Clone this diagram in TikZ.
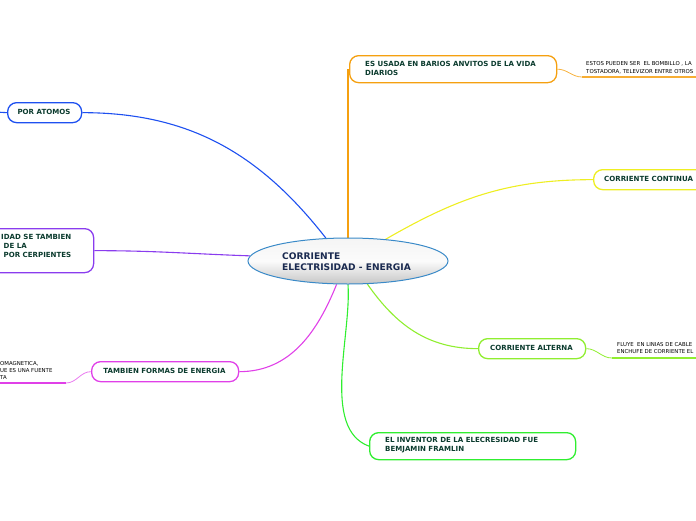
\documentclass[tikz,border=0pt]{standalone}
\usepackage{fontspec}
\setmainfont{DejaVu Sans}
\usetikzlibrary{shapes.geometric}
\definecolor{corange}{HTML}{F5A010}
\definecolor{cyellow}{HTML}{EEEE22}
\definecolor{cblue}{HTML}{1E50F0}
\definecolor{cpurple}{HTML}{8A3CEE}
\definecolor{cmagenta}{HTML}{E040E8}
\definecolor{clgreen}{HTML}{90EE30}
\definecolor{cgreen}{HTML}{30EE30}
\definecolor{cborder}{HTML}{3A8AC8}
\definecolor{txt}{HTML}{0B3B2E}
\definecolor{ctxt}{HTML}{1A2A50}
\pgfdeclarelayer{bg}
\pgfsetlayers{bg,main}
\begin{document}
\begin{tikzpicture}[x=1pt,y=1pt,
  box/.style={draw, rounded corners=9pt, line width=1.3pt, fill=white, inner sep=0pt, anchor=north west},
  lbl/.style={inner sep=0pt, anchor=west, align=left, text=txt, font=\fontsize{7.05}{9}\selectfont\bfseries},
  clbl/.style={lbl, anchor=center, align=center},
  subt/.style={inner sep=0pt, anchor=west, align=left, text=black, font=\fontsize{5.4}{7.8}\selectfont},
  link/.style={line width=1.1pt},
  uline/.style={line width=1.6pt}]
\useasboundingbox (0,0) rectangle (696,-520);
\clip (0,0) rectangle (696,-520);
% central node
\node[ellipse, draw=cborder, line width=1pt, minimum width=200pt, minimum height=46pt,
  top color=white!92!gray, bottom color=gray!45, middle color=white!97!gray] (c) at (348,-261) {};
\node[inner sep=0pt, anchor=west, align=left, text=ctxt, font=\fontsize{9.1}{11.5}\selectfont\bfseries] (ct) at (282,-261.5) {CORRIENTE\\ELECTRISIDAD - ENERGIA};
% boxes
\node[box, draw=corange, minimum width=207pt, minimum height=27pt] (ob) at (349,-55) {};
\node[lbl] (obt) at (365,-68.5) {ES USADA EN BARIOS ANVITOS DE LA VIDA\\DIARIOS};
\node[box, draw=cyellow, minimum width=130pt, minimum height=20pt] (yb) at (593,-169) {};
\node[lbl] (ybt) at (604,-179) {CORRIENTE CONTINUA};
\node[box, draw=cblue, minimum width=74pt, minimum height=20pt] (bb) at (7,-102) {};
\node[clbl] (bbt) at (44,-112) {POR ATOMOS};
\node[box, draw=cpurple, minimum width=123pt, minimum height=44pt] (pb) at (-30,-228) {};
\node[lbl] (pbt) at (1,-246) {IDAD SE TAMBIEN\\\ DE LA\\\ POR CERPIENTES};
\node[box, draw=cmagenta, minimum width=147pt, minimum height=20pt] (mb) at (91,-361) {};
\node[clbl] (mbt) at (164.5,-371) {TAMBIEN FORMAS DE ENERGIA};
\node[box, draw=clgreen, minimum width=107pt, minimum height=20pt] (lb) at (478,-338) {};
\node[clbl] (lbt) at (531.5,-348) {CORRIENTE ALTERNA};
\node[box, draw=cgreen, minimum width=206pt, minimum height=27pt] (gb) at (369,-432) {};
\node[lbl] (gbt) at (385,-445.5) {EL INVENTOR DE LA ELECRESIDAD FUE\\BEMJAMIN FRAMLIN};
% sub texts
\node[subt] (os) at (586,-68) {ESTOS PUEDEN SER \ EL BOMBILLO , LA\\TOSTADORA, TELEVIZOR ENTRE OTROS};
\coordinate (os0) at (582,-77);
\coordinate (os1) at (700,-77);
\node[subt] (ls) at (617,-348) {FLUYE \ EN LINIAS DE CABLE\\ENCHUFE DE CORRIENTE EL};
\coordinate (ls0) at (612,-358);
\coordinate (ls1) at (700,-358);
\node[subt, font=\fontsize{5.4}{7}\selectfont] (ms) at (0,-370) {OMAGNETICA,\\UE ES UNA FUENTE\\TA};
\coordinate (ms0) at (66,-383);
\coordinate (ms1) at (-5,-383);
\coordinate (bl) at (-5,-112);
% connectors
\begin{pgfonlayer}{bg}
\draw[link, corange] (c.north) -- (c.north |- ob.west);
\draw[link, cyellow] (c.30) to[out=30, in=180] (yb.west);
\draw[link, cblue] (c.134) to[out=128, in=0, looseness=1] (bb.east);
\draw[link, cblue] (bl) -- (bb.west);
\draw[link, cpurple] (c.177) to[out=178, in=0] (pb.east);
\draw[link, cmagenta] (c.244) to[out=-112, in=0] (mb.east);
\draw[link, clgreen] (c.-50) to[out=-55, in=180] (lb.west);
\draw[link, cgreen] (c.south) to[out=-86, in=160, looseness=0.8] (gb.west);
\draw[line width=0.8pt, corange!80] (ob.east) to[out=0, in=180] (os0);
\draw[uline, corange!85] (os0) -- (os1);
\draw[line width=0.8pt, clgreen] (lb.east) to[out=0, in=180] (ls0);
\draw[uline, clgreen] (ls0) -- (ls1);
\draw[line width=0.8pt, cmagenta!70] (ms0) to[out=0, in=180] (mb.west);
\draw[uline, cmagenta] (ms1) -- (ms0);
\end{pgfonlayer}
\end{tikzpicture}
\end{document}
